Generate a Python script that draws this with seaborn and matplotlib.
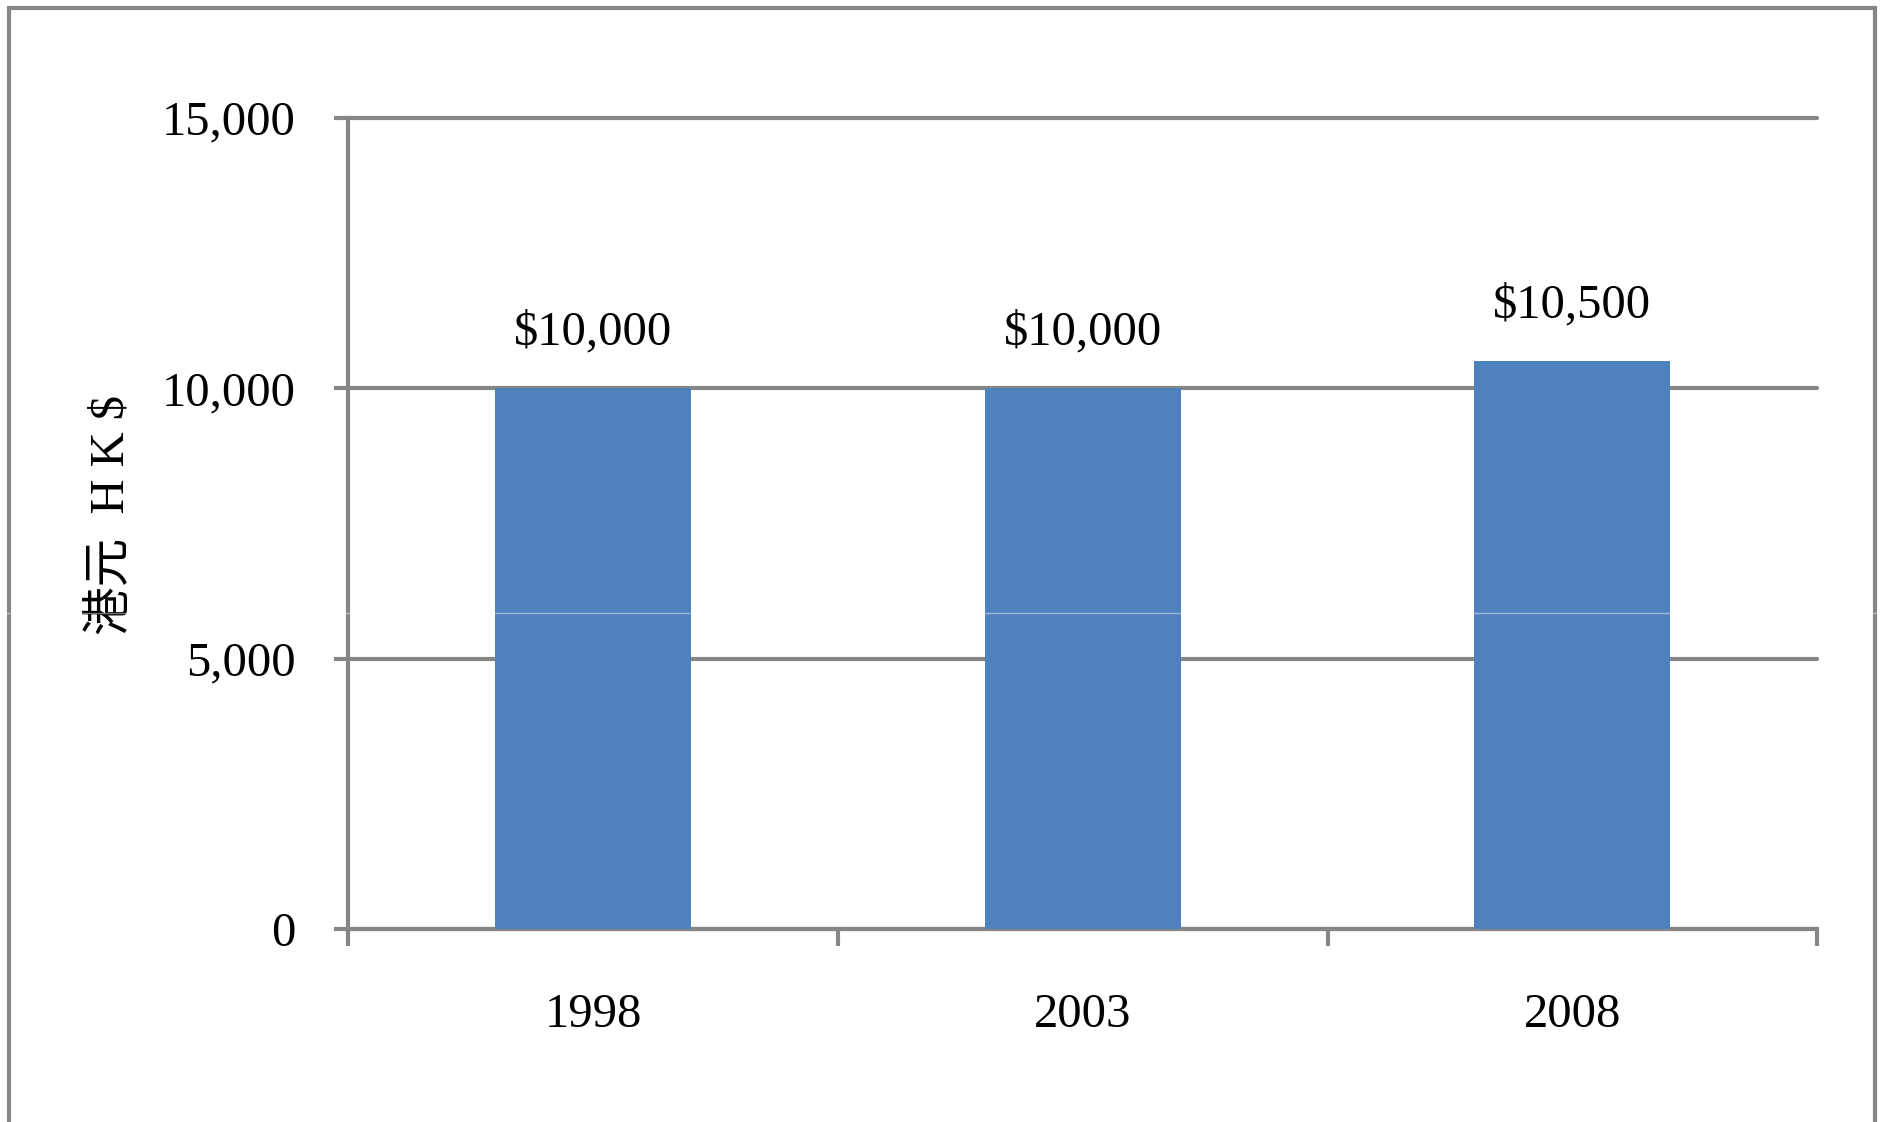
import matplotlib
matplotlib.use("Agg")
import matplotlib.pyplot as plt
import seaborn as sns
from matplotlib.patches import Rectangle
from matplotlib.lines import Line2D
from matplotlib.ticker import FuncFormatter

# --- data ---
years = ["1998", "2003", "2008"]
wages = [10000, 10000, 10500]
y_ticks = [0, 5000, 10000, 15000]

BAR_BLUE = "#4F81BD"
GREY = "#868686"
FONT = ["Liberation Serif", "Noto Sans CJK TC", "DejaVu Sans"]
LW = 3.0

sns.set_style("white")
plt.rcParams["font.family"] = FONT
plt.rcParams["text.color"] = "black"
plt.rcParams["xtick.color"] = "black"
plt.rcParams["ytick.color"] = "black"
plt.rcParams["axes.labelcolor"] = "black"

fig = plt.figure(figsize=(18.83, 11.22), dpi=100)
ax = fig.add_axes([0.185, 0.172, 0.780, 0.723])

sns.barplot(x=years, y=wages, color=BAR_BLUE, saturation=1, width=0.4,
            linewidth=0, ax=ax, zorder=3)

ax.set_xlim(-0.5, 2.5)
ax.set_ylim(0, 15000)
ax.set_yticks(y_ticks)
ax.yaxis.set_major_formatter(FuncFormatter(lambda v, p: f"{int(v):,}"))

# gridlines behind bars
ax.set_axisbelow(True)
ax.yaxis.grid(True, color=GREY, linewidth=LW)
ax.xaxis.grid(False)
for gl in ax.get_ygridlines():
    gl.set_clip_on(False)

for side in ["top", "right"]:
    ax.spines[side].set_visible(False)
for side in ["left", "bottom"]:
    ax.spines[side].set_color(GREY)
    ax.spines[side].set_linewidth(LW)

# x ticks at category borders, labels at centres
ax.set_xticks([-0.5, 0.5, 1.5, 2.5])
ax.set_xticklabels([])
ax.set_xticks([0, 1, 2], minor=True)
ax.set_xticklabels(years, minor=True)
ax.tick_params(axis="x", which="major", bottom=True, length=12, width=LW,
               color=GREY, direction="out")
ax.tick_params(axis="x", which="minor", bottom=True, length=0, pad=46, labelsize=35)
ax.tick_params(axis="y", left=True, length=10, width=LW, color=GREY,
               direction="out", pad=28, labelsize=35)

ax.set_xlabel("")
ax.set_ylabel("港元  H K $", fontsize=35)
ax.yaxis.set_label_coords(-0.146, 0.51)

ax.bar_label(ax.containers[0], labels=[f"${v:,}" for v in wages], padding=24, fontsize=35)

# outer chart frame
fig.add_artist(Rectangle((0.005, -0.02), 0.991, 1.013, transform=fig.transFigure,
                         fill=False, edgecolor=GREY, linewidth=LW))
# faint seam line across the picture
fig.add_artist(Line2D([0, 1], [0.454, 0.454], transform=fig.transFigure,
                      color="white", alpha=0.45, linewidth=1))

fig.savefig("out.png", dpi=100)
